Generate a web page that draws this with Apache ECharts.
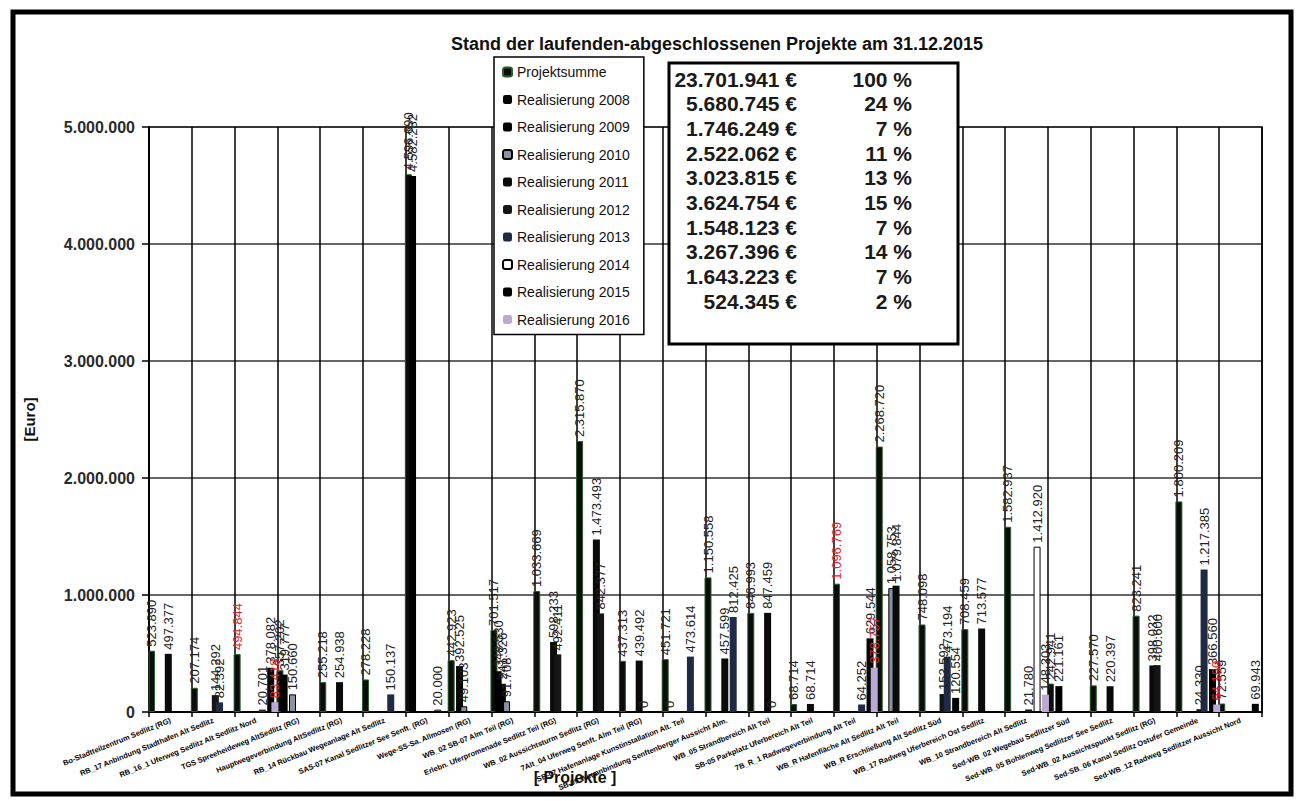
<!DOCTYPE html>
<html>
<head>
<meta charset="utf-8">
<script src="https://cdn.jsdelivr.net/npm/echarts@6/dist/echarts.min.js"></script>
<style>
  html, body { margin: 0; padding: 0; background: #fff; }
  #chart { width: 1305px; height: 801px; }
</style>
</head>
<body>
<div id="chart"></div>
<script>
// Projekte (x-Achse)
const projekte = [
  'Bo-Stadtteilzentrum Sedlitz (RG)',
  'RB_17 Anbindung Stadthafen Alt Sedlitz',
  'RB_16_1 Uferweg Sedlitz Alt Sedlitz Nord',
  'TGS Spreeheideweg AltSedlitz (RG)',
  'Hauptwegeverbindung AltSedlitz (RG)',
  'RB_14 Rückbau Wegeanlage Alt Sedlitz',
  'SAS-07 Kanal Sedlitzer See Senft. (RG)',
  'Wege-SS-Sa. Allmosen (RG)',
  'WB_02 SB-07 Alm Teil (RG)',
  'Erlebn. Uferpromenade Sedlitz Teil (RG)',
  'WB_02 Aussichtsturm Sedlitz (RG)',
  '7Alt_04 Uferweg Senft. Alm Teil (RG)',
  'SB-07 Hafenanlage Kunstinstallation Alt. Teil',
  'SB-09 Weganbindung Senftenberger Aussicht Alm.',
  'WB_05 Strandbereich Alt Teil',
  'SB-05 Parkplatz Uferbereich Alt Teil',
  '7B_R_1 Radwegeverbindung Alt Teil',
  'WB_R Hafenfläche Alt Sedlitz Alt Teil',
  'WB_R Erschließung Alt Sedlitz Süd',
  'WB_17 Radweg Uferbereich Ost Sedlitz',
  'WB_10 Strandbereich Alt Sedlitz',
  'Sed-WB_02 Wegebau Sedlitzer Süd',
  'Sed-WB_05 Bohlenweg Sedlitzer See Sedlitz',
  'Sed-WB_02 Aussichtspunkt Sedlitz (RG)',
  'Sed-SB_06 Kanal Sedlitz Ostufer Gemeinde',
  'Sed-WB_12 Radweg Sedlitzer Aussicht Nord'
];

const seriesNames = ['Projektsumme', 'Realisierung 2008', 'Realisierung 2009', 'Realisierung 2010',
  'Realisierung 2011', 'Realisierung 2012', 'Realisierung 2013', 'Realisierung 2014',
  'Realisierung 2015', 'Realisierung 2016'];

const projektsumme = [523890, 207174, 494844, 357202, 255218, 278228, 4596690, 442923, 701517, 1033669,
  2315870, 437313, 451721, 1150558, 846993, 68714, 1096769, 2268720, 748098, 708459,
  1582937, 242941, 227570, 823241, 1800209, 72559];
const real2008 = [null, null, null, 319777, null, null, 4582232, null, 348530, null,
  null, null, 0, null, null, null, null, null, null, null,
  null, null, null, null, null, null];
const real2009 = [null, null, null, null, null, null, null, 392525, 241326, null,
  null, null, null, null, null, null, null, null, null, null,
  null, 221161, null, null, null, null];
const real2010 = [null, null, null, 150660, null, null, null, 49103, 91708, null,
  null, null, null, null, null, null, null, 1058753, null, null,
  null, null, null, null, null, null];
const real2011 = [497377, null, null, null, 254938, null, null, null, null, 598233,
  1473493, 439492, null, 457599, 847459, 68714, null, 1079844, null, 713577,
  null, null, 220397, 398032, null, null];
const real2012 = [null, 144292, null, null, null, null, null, null, null, 492411,
  842377, 0, null, null, 0, null, null, null, 153592, null,
  21780, null, null, 400600, 24330, null];
const real2013 = [null, 82392, 20701, null, null, 150137, null, null, null, null,
  null, null, 473614, 812425, null, null, 64252, null, 473194, null,
  null, null, null, null, 1217385, null];
const real2014 = [null, null, null, null, null, null, 20000, null, null, null,
  null, null, null, null, null, null, null, null, null, null,
  1412920, null, null, null, null, null];
const real2015 = [null, null, 378082, null, null, null, null, null, null, null,
  null, null, null, null, null, null, 629544, null, 120554, null,
  null, null, null, null, 366560, 69943];
const real2016 = [null, null, 83418, null, null, null, null, null, null, null,
  null, null, null, null, null, null, 378757, null, null, null,
  148303, null, null, null, 64160, null];

// Summen-Tabelle
const summen = [23701941, 5680745, 1746249, 2522062, 3023815, 3624754, 1548123, 3267396, 1643223, 524345];
const prozente = [100, 24, 7, 11, 13, 15, 7, 14, 7, 2];

const yTicks = [0, 1000000, 2000000, 3000000, 4000000, 5000000];

// rot beschriftete Werte [Serie, Projekt]
const rotMarkiert = [[0, 2], [9, 2], [0, 16], [9, 16], [9, 24]];

const seriesData = [projektsumme, real2008, real2009, real2010, real2011, real2012,
  real2013, real2014, real2015, real2016];

const seriesStyles = [
  { color: '#0c0c0c', borderColor: '#2b5e2b', borderWidth: 1 },
  { color: '#000' },
  { color: '#000' },
  { color: '#8a93a3', borderColor: '#000', borderWidth: 1 },
  { color: '#0a0a0a' },
  { color: '#151515' },
  { color: '#1f2a44' },
  { color: '#fff', borderColor: '#000', borderWidth: 1 },
  { color: '#000' },
  { color: '#b9a9d4' }
];

const fmt = v => String(v).replace(/\B(?=(\d{3})+(?!\d))/g, '.');
const FONT = 'Liberation Sans, Arial, sans-serif';

const chart = echarts.init(document.getElementById('chart'), null, { renderer: 'svg' });

// Balken überlappen sich wie im Excel-Original
const series = seriesNames.map((name, si) => ({
  name: name,
  type: 'bar',
  barWidth: 7,
  barGap: '-40%',
  itemStyle: seriesStyles[si],
  data: seriesData[si].map((v, ci) => {
    const red = rotMarkiert.some(r => r[0] === si && r[1] === ci);
    return red ? { value: v, label: { color: '#e8212b' } } : v;
  }),
  label: {
    show: true,
    position: 'top',
    rotate: 90,
    align: 'left',
    verticalAlign: 'middle',
    distance: 4,
    fontFamily: FONT,
    fontSize: 13,
    color: '#222',
    formatter: p => (p.value == null ? '' : fmt(p.value))
  }
}));

const tableRows = [];
summen.forEach((s, i) => {
  const y = 79 + i * 24.7;
  tableRows.push({
    type: 'text', z: 110,
    style: { text: fmt(s) + ' €', x: 797, y: y, textAlign: 'right', textVerticalAlign: 'middle',
      font: 'bold 21px ' + FONT, fill: '#1a1a1a' }
  });
  tableRows.push({
    type: 'text', z: 110,
    style: { text: prozente[i] + ' %', x: 912, y: y, textAlign: 'right', textVerticalAlign: 'middle',
      font: 'bold 21px ' + FONT, fill: '#1a1a1a' }
  });
});

const option = {
  backgroundColor: '#fff',
  animation: false,
  grid: { left: 149, right: 43, top: 127, bottom: 89, show: true, borderColor: '#000', borderWidth: 1.5 },
  legend: {
    orient: 'vertical',
    left: 494,
    top: 57,
    padding: [8, 14, 8, 8],
    itemWidth: 9,
    itemHeight: 9,
    itemGap: 13.5,
    backgroundColor: '#fff',
    borderColor: '#000',
    borderWidth: 1.5,
    textStyle: { fontFamily: FONT, fontSize: 14, color: '#111' },
    data: seriesNames
  },
  xAxis: {
    type: 'category',
    data: projekte,
    axisLine: { lineStyle: { color: '#000', width: 2 } },
    axisTick: { show: true, length: 5, lineStyle: { color: '#000', width: 1.5 } },
    splitLine: { show: true, interval: 0, lineStyle: { color: '#000', width: 1.5 } },
    axisLabel: { interval: 0, rotate: 22, margin: 8, fontFamily: FONT, fontSize: 7.5, fontWeight: 'bold', color: '#000' }
  },
  yAxis: {
    type: 'value',
    min: yTicks[0],
    max: yTicks[yTicks.length - 1],
    interval: yTicks[1] - yTicks[0],
    name: '[Euro]',
    nameLocation: 'middle',
    nameRotate: 90,
    nameGap: 112,
    nameTextStyle: { fontFamily: FONT, fontSize: 15, fontWeight: 'bold', color: '#111' },
    axisLine: { show: true, lineStyle: { color: '#000', width: 2 } },
    axisTick: { show: true, length: 7, lineStyle: { color: '#000', width: 1.5 } },
    splitLine: { show: true, lineStyle: { color: '#333', width: 1.5 } },
    axisLabel: { margin: 14, fontFamily: FONT, fontSize: 16, fontWeight: 'bold', color: '#2a2a2a', formatter: v => fmt(v) }
  },
  graphic: [
    {
      type: 'rect', z: 0, silent: true,
      shape: { x: 13, y: 12, width: 1278, height: 782 },
      style: { fill: 'none', stroke: '#000', lineWidth: 5 }
    },
    {
      type: 'text', z: 100,
      style: { text: 'Stand der laufenden-abgeschlossenen Projekte am 31.12.2015', x: 717, y: 44,
        textAlign: 'center', textVerticalAlign: 'middle', font: 'bold 18px ' + FONT, fill: '#111' }
    },
    {
      type: 'text', z: 100,
      style: { text: '[ Projekte ]', x: 575, y: 777, textAlign: 'center', textVerticalAlign: 'middle',
        font: 'bold 16px ' + FONT, fill: '#111' }
    },
    {
      type: 'rect', z: 105,
      shape: { x: 669, y: 63, width: 289, height: 281 },
      style: { fill: '#fff', stroke: '#000', lineWidth: 3 }
    }
  ].concat(tableRows),
  series: series
};

chart.setOption(option);
</script>
</body>
</html>
